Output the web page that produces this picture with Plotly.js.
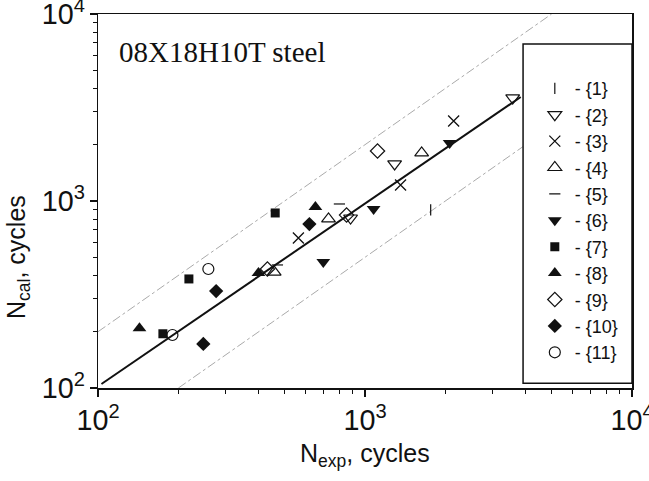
<!DOCTYPE html>
<html>
<head>
<meta charset="utf-8">
<script src="https://cdn.plot.ly/plotly-3.0.1.min.js"></script>
<style>html,body{margin:0;padding:0;background:#fff;}#chart{width:649px;height:481px;}</style>
</head>
<body>
<div id="chart"></div>
<script>
// Data (N_exp, N_cal), cycles
const s1x = [1762], s1y = [896];
const s2x = [3574, 1291, 883], s2y = [3557, 1578, 811];
const s3x = [2148, 1359, 563], s3y = [2680, 1218, 634];
const s4x = [1630, 730, 457], s4y = [1807, 802, 417];
const s5x = [802, 470], s5y = [964, 455];
const s6x = [2075, 1077, 698], s6y = [2042, 906, 472];
const s7x = [461, 219, 175], s7y = [863, 383, 195];
const s8x = [652, 399, 143], s8y = [929, 412, 209];
const s9x = [1114, 853, 431], s9y = [1850, 841, 433];
const s10x = [619, 277, 248], s10y = [753, 330, 172];
const s11x = [259, 190], s11y = [433, 192];
const seriesNames = ['- {1}','- {2}','- {3}','- {4}','- {5}','- {6}','- {7}','- {8}','- {9}','- {10}','- {11}'];

// reference lines
const fitX = [103, 3830], fitY = [105, 3600];
const upX = [100, 5000], upY = [200, 10000];
const loX = [200, 10000], loY = [100, 5000];

const K = '#111';
const styles = [
  {symbol:'line-ns', size:8, color:K, line:{color:K, width:1.2}},
  {symbol:'triangle-down-open', size:12, color:K, line:{color:K, width:1.2}},
  {symbol:'x-thin-open', size:11, color:K, line:{color:K, width:1.3}},
  {symbol:'triangle-up-open', size:12, color:K, line:{color:K, width:1.2}},
  {symbol:'line-ew', size:8, color:K, line:{color:K, width:1.2}},
  {symbol:'triangle-down', size:12, color:K, line:{color:K, width:0}},
  {symbol:'square', size:9, color:K, line:{color:K, width:0}},
  {symbol:'triangle-up', size:12, color:K, line:{color:K, width:0}},
  {symbol:'diamond-open', size:11, color:K, line:{color:K, width:1.2}},
  {symbol:'diamond', size:11, color:K, line:{color:K, width:0}},
  {symbol:'circle-open', size:11, color:K, line:{color:K, width:1.2}}
];
const xs = [s1x,s2x,s3x,s4x,s5x,s6x,s7x,s8x,s9x,s10x,s11x];
const ys = [s1y,s2y,s3y,s4y,s5y,s6y,s7y,s8y,s9y,s10y,s11y];

const traces = [
  {x: upX, y: upY, mode:'lines', line:{color:'#aaa', width:1, dash:'dashdot'}, showlegend:false, hoverinfo:'skip'},
  {x: loX, y: loY, mode:'lines', line:{color:'#aaa', width:1, dash:'dashdot'}, showlegend:false, hoverinfo:'skip'},
  {x: fitX, y: fitY, mode:'lines', line:{color:K, width:2}, showlegend:false, hoverinfo:'skip'}
];
for (let i = 0; i < 11; i++) {
  traces.push({x: xs[i], y: ys[i], mode:'markers', name: seriesNames[i], marker: styles[i]});
}

const axisCommon = {
  type:'log', range:[2,4], dtick:1, exponentformat:'power',
  showline:true, linecolor:K, linewidth:1.5, mirror:true,
  ticks:'outside', ticklen:7, tickwidth:1.2, tickcolor:K,
  showgrid:false, zeroline:false, ticklabeloverflow:'allow',
  tickfont:{family:'Liberation Sans, Arial, sans-serif', size:23, color:K},
  minor:{ticks:'outside', ticklen:4, tickwidth:1, tickcolor:K, dtick:'D1', showgrid:false}
};

const layout = {
  width:649, height:481,
  margin:{l:98, r:17, t:14, b:93},
  paper_bgcolor:'#fff', plot_bgcolor:'#fff',
  showlegend:true,
  xaxis: Object.assign({}, axisCommon),
  yaxis: Object.assign({}, axisCommon),
  legend:{x:0.818, xanchor:'left', y:0.85, yanchor:'top', bgcolor:'rgba(0,0,0,0)', borderwidth:0,
          font:{family:'Liberation Sans, Arial, sans-serif', size:18, color:K}, tracegroupgap:0},
  shapes:[{type:'rect', xref:'paper', yref:'paper', x0:0.796, x1:1.0, y0:0.013, y1:0.92,
           line:{color:K, width:1.5}, fillcolor:'#fff', layer:'above'}],
  annotations:[
    {text:'08X18H10T steel', xref:'paper', yref:'paper', x:0.036, y:0.898, xanchor:'left', yanchor:'middle',
     showarrow:false, font:{family:'Liberation Serif, Times New Roman, serif', size:29, color:K}},
    {text:'N<sub>exp</sub>, cycles', xref:'paper', yref:'paper', x:0.5, y:-0.178, xanchor:'center', yanchor:'middle',
     showarrow:false, font:{family:'Liberation Sans, Arial, sans-serif', size:25, color:K}},
    {text:'N<sub>cal</sub>, cycles', xref:'paper', yref:'paper', x:-0.15, y:0.35, xanchor:'center', yanchor:'middle',
     textangle:-90, showarrow:false, font:{family:'Liberation Sans, Arial, sans-serif', size:25, color:K}}
  ]
};

Plotly.newPlot('chart', traces, layout, {displayModeBar:false, staticPlot:true});
</script>
</body>
</html>
